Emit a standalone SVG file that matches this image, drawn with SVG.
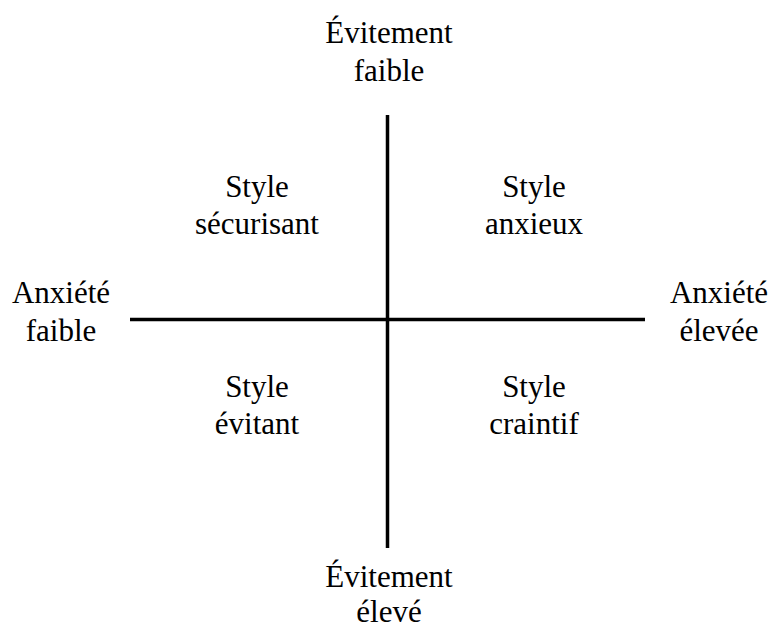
<svg xmlns="http://www.w3.org/2000/svg" width="774" height="628" viewBox="0 0 774 628">
<rect width="774" height="628" fill="#fff"/>
<g id="axes" stroke="#000" stroke-width="3.5" fill="none">
<line x1="387.5" y1="115" x2="387.5" y2="548"/>
<line x1="130" y1="319.5" x2="645" y2="319.5"/>
</g>
<g id="top"><text x="389" y="43" style="font-family:'Liberation Serif','Times New Roman',serif;font-size:31px;text-anchor:middle">&#201;vitement</text><text x="389" y="81" style="font-family:'Liberation Serif','Times New Roman',serif;font-size:31px;text-anchor:middle">faible</text></g>
<g id="bottom"><text x="389" y="587" style="font-family:'Liberation Serif','Times New Roman',serif;font-size:31px;text-anchor:middle">&#201;vitement</text><text x="389" y="622" style="font-family:'Liberation Serif','Times New Roman',serif;font-size:31px;text-anchor:middle">&#233;lev&#233;</text></g>
<g id="left"><text x="61" y="303" style="font-family:'Liberation Serif','Times New Roman',serif;font-size:31px;text-anchor:middle">Anxi&#233;t&#233;</text><text x="61" y="341" style="font-family:'Liberation Serif','Times New Roman',serif;font-size:31px;text-anchor:middle">faible</text></g>
<g id="right"><text x="719" y="303" style="font-family:'Liberation Serif','Times New Roman',serif;font-size:31px;text-anchor:middle">Anxi&#233;t&#233;</text><text x="719" y="341" style="font-family:'Liberation Serif','Times New Roman',serif;font-size:31px;text-anchor:middle">&#233;lev&#233;e</text></g>
<g id="q1"><text x="257" y="197" style="font-family:'Liberation Serif','Times New Roman',serif;font-size:31px;text-anchor:middle">Style</text><text x="257" y="234" style="font-family:'Liberation Serif','Times New Roman',serif;font-size:31px;text-anchor:middle">s&#233;curisant</text></g>
<g id="q2"><text x="534" y="197" style="font-family:'Liberation Serif','Times New Roman',serif;font-size:31px;text-anchor:middle">Style</text><text x="534" y="234" style="font-family:'Liberation Serif','Times New Roman',serif;font-size:31px;text-anchor:middle">anxieux</text></g>
<g id="q3"><text x="257" y="397" style="font-family:'Liberation Serif','Times New Roman',serif;font-size:31px;text-anchor:middle">Style</text><text x="257" y="434" style="font-family:'Liberation Serif','Times New Roman',serif;font-size:31px;text-anchor:middle">&#233;vitant</text></g>
<g id="q4"><text x="534" y="397" style="font-family:'Liberation Serif','Times New Roman',serif;font-size:31px;text-anchor:middle">Style</text><text x="534" y="434" style="font-family:'Liberation Serif','Times New Roman',serif;font-size:31px;text-anchor:middle">craintif</text></g>
</svg>
